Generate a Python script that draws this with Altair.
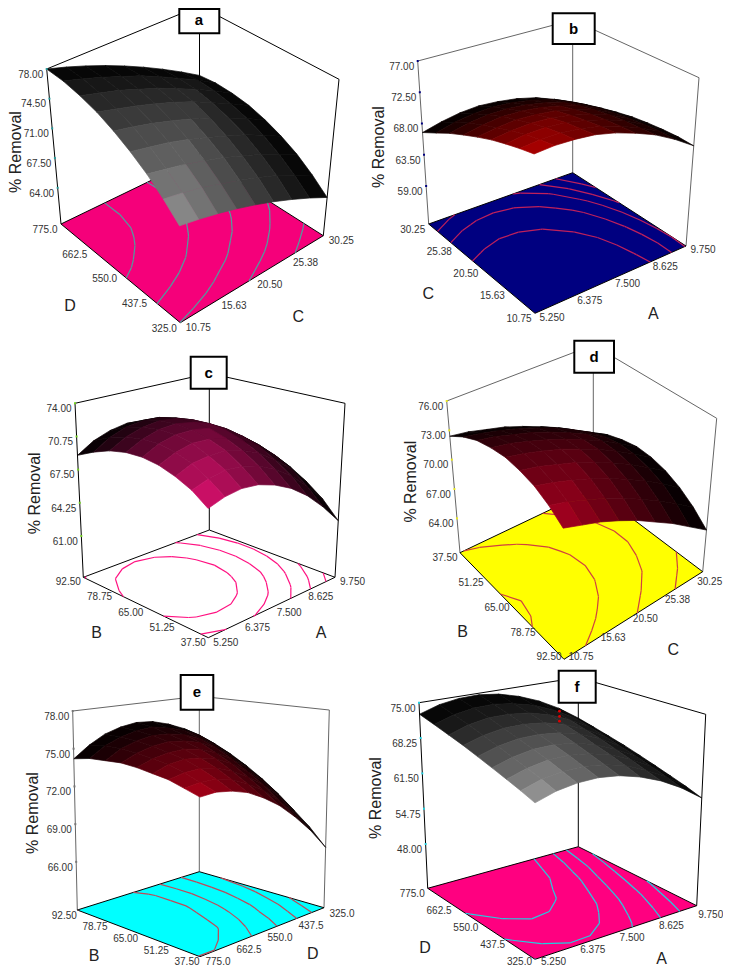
import altair as alt, pandas as pd, numpy as np
alt.data_transformers.disable_max_rows()
D_T=["775.0","662.5","550.0","437.5","325.0"]; C_T=["10.75","15.63","20.50","25.38","30.25"]
A_T=["5.250","6.375","7.500","8.625","9.750"]; B_T=["37.50","51.25","65.00","78.75","92.50"]
# % Removal: rows run along the left floor edge, columns along the right floor edge
SURF_A=[[71.0,70.5,69.9,69.2,68.4,67.5,66.5,65.4,64.2],[72.7,72.2,71.6,70.8,70.0,69.1,68.1,66.9,65.7],[74.2,73.6,73.0,72.2,71.4,70.4,69.4,68.2,67.0],
[75.4,74.8,74.2,73.4,72.5,71.5,70.5,69.3,68.0],[76.4,75.8,75.1,74.3,73.4,72.4,71.3,70.1,68.8],[77.2,76.5,75.8,75.0,74.1,73.1,71.9,70.7,69.4],
[77.7,77.0,76.3,75.4,74.5,73.4,72.3,71.1,69.7],[78.0,77.3,76.5,75.6,74.7,73.6,72.4,71.2,69.8],[78.0,77.3,76.5,75.6,74.6,73.5,72.3,71.0,69.6]]
SURF_B=[[74.9,75.0,74.8,74.4,73.6,72.5,71.2,69.5,67.5],[74.3,74.5,74.4,74.0,73.3,72.3,71.0,69.5,67.6],[73.6,73.9,73.9,73.6,72.9,72.0,70.8,69.3,67.5],
[72.8,73.1,73.2,73.0,72.4,71.6,70.5,69.0,67.3],[71.8,72.2,72.4,72.2,71.8,71.0,70.0,68.6,67.0],[70.7,71.2,71.5,71.4,71.0,70.3,69.4,68.1,66.5],
[69.5,70.1,70.4,70.4,70.1,69.5,68.6,67.4,65.9],[68.1,68.8,69.2,69.3,69.1,68.6,67.8,66.6,65.2],[66.7,67.4,67.9,68.1,67.9,67.5,66.8,65.7,64.4]]
SURF_C=[[68.5,69.0,69.2,69.0,68.4,67.5,66.2,64.5,62.5],[69.6,70.1,70.4,70.2,69.7,68.8,67.6,66.0,64.1],[70.3,71.0,71.2,71.2,70.7,69.9,68.7,67.2,65.3],
[70.8,71.5,71.9,71.8,71.4,70.7,69.6,68.1,66.3],[71.0,71.8,72.2,72.2,71.9,71.2,70.1,68.7,67.0],[70.9,71.7,72.2,72.3,72.0,71.4,70.4,69.1,67.4],
[70.5,71.4,71.9,72.1,71.9,71.3,70.4,69.1,67.5],[69.8,70.8,71.4,71.6,71.5,71.0,70.1,68.9,67.3],[68.9,69.9,70.5,70.8,70.7,70.3,69.5,68.3,66.8]]
SURF_D=[[73.2,72.5,71.8,70.9,69.9,68.7,67.5,66.1,64.7],[74.2,73.6,72.8,72.0,71.0,69.9,68.7,67.4,66.0],[74.9,74.3,73.6,72.8,71.9,70.8,69.7,68.4,67.0],
[75.2,74.7,74.0,73.3,72.4,71.4,70.3,69.0,67.7],[75.3,74.8,74.2,73.5,72.6,71.7,70.6,69.4,68.1],[75.0,74.6,74.0,73.3,72.5,71.6,70.6,69.4,68.2],
[74.5,74.1,73.5,72.9,72.1,71.2,70.2,69.1,67.9],[73.6,73.2,72.7,72.1,71.4,70.6,69.6,68.5,67.4],[72.4,72.1,71.6,71.1,70.4,69.6,68.7,67.6,66.5]]
SURF_E=[[74.2,74.2,73.9,73.4,72.6,71.6,70.3,68.8,67.0],[74.5,74.6,74.5,74.1,73.4,72.5,71.3,69.9,68.3],[74.8,75.0,75.0,74.7,74.1,73.3,72.3,71.0,69.4],
[74.9,75.3,75.4,75.2,74.8,74.1,73.1,72.0,70.5],[75.0,75.4,75.6,75.6,75.3,74.7,73.9,72.8,71.5],[75.0,75.5,75.8,75.9,75.7,75.3,74.6,73.6,72.4],
[74.8,75.5,75.9,76.1,76.0,75.7,75.1,74.3,73.2],[74.6,75.4,75.9,76.2,76.3,76.0,75.6,74.9,73.9],[74.2,75.1,75.8,76.2,76.4,76.3,75.9,75.3,74.5]]
SURF_F=[[66.6,67.7,68.2,68.2,67.6,66.4,64.7,62.4,59.5],[67.5,68.6,69.1,69.1,68.5,67.4,65.6,63.4,60.5],[68.3,69.4,70.0,70.0,69.4,68.3,66.5,64.3,61.4],
[69.1,70.2,70.8,70.8,70.3,69.1,67.4,65.2,62.3],[69.9,71.0,71.6,71.6,71.1,70.0,68.3,66.0,63.2],[70.7,71.8,72.4,72.4,71.9,70.8,69.1,66.9,64.1],
[71.4,72.6,73.2,73.2,72.7,71.6,69.9,67.7,64.9],[72.1,73.3,73.9,74.0,73.4,72.4,70.7,68.5,65.7],[72.8,74.0,74.6,74.7,74.2,73.1,71.5,69.3,66.5]]
# response grids behind the floor contours where they read differently from the drawn surface
CONT_C=[[68.5,69.0,69.2,69.0,68.4,67.5,66.2,64.5,62.5],[69.6,70.1,70.3,70.2,69.7,68.8,67.5,65.9,64.0],[70.3,70.9,71.2,71.1,70.6,69.8,68.6,67.0,65.1],
[70.8,71.5,71.8,71.7,71.3,70.5,69.4,67.9,66.0],[71.0,71.7,72.1,72.1,71.7,70.9,69.8,68.4,66.6],[70.9,71.7,72.1,72.1,71.8,71.1,70.0,68.6,66.9],
[70.5,71.3,71.8,71.9,71.6,70.9,69.9,68.6,66.9],[69.8,70.7,71.2,71.3,71.1,70.5,69.6,68.3,66.6],[68.9,69.8,70.3,70.5,70.3,69.8,68.9,67.6,66.0]]
CONT_E=[[74.2,74.2,73.9,73.4,72.6,71.6,70.3,68.8,67.0],[74.5,74.6,74.3,73.9,73.1,72.2,70.9,69.4,67.7],[74.8,74.9,74.7,74.3,73.6,72.6,71.4,70.0,68.3],
[74.9,75.1,74.9,74.5,73.9,73.0,71.9,70.5,68.8],[75.0,75.2,75.1,74.7,74.1,73.3,72.2,70.9,69.3],[75.0,75.2,75.1,74.8,74.3,73.5,72.4,71.2,69.6],
[74.8,75.1,75.1,74.8,74.3,73.6,72.6,71.3,69.8],[74.6,74.9,74.9,74.7,74.3,73.6,72.6,71.4,70.0],[74.2,74.6,74.7,74.5,74.1,73.5,72.6,71.4,70.0]]
CONT_F=[[66.6,67.7,68.2,68.2,67.6,66.4,64.7,62.4,59.5],[67.5,68.5,69.1,69.0,68.4,67.2,65.5,63.2,60.3],[68.3,69.4,69.9,69.8,69.2,68.0,66.2,63.9,61.0],
[69.1,70.2,70.7,70.6,69.9,68.7,66.9,64.6,61.7],[69.9,70.9,71.4,71.3,70.7,69.4,67.6,65.3,62.3],[70.7,71.7,72.1,72.0,71.3,70.1,68.3,65.9,63.0],
[71.4,72.4,72.8,72.7,72.0,70.8,68.9,66.6,63.6],[72.1,73.1,73.5,73.4,72.7,71.4,69.6,67.2,64.2],[72.8,73.8,74.2,74.0,73.3,72.0,70.2,67.7,64.8]]
POINTS_F=[75.2,74.2,73.3]
P={
'a':dict(L=(61,224),F=(180.3,322.7),R=(323.3,235.7),B=(199.5,157),TL=(46.7,69),TR=(339,79.3),TB=(199.5,6),TF=(179,165.7),
 zt=78,zstep=3.5,zp=.1916,zvals=[78,74.5,71,67.5,64],grid=SURF_A,cgrid=SURF_A,levels=[66.03,68.53,71.03,73.53,76.03],
 floor='#F5007A',cont='#4f9e9e',wall='#000',tick='#2a9a9a',base='#909090',left=D_T,right=C_T,
 box=(179.3,9,219.3,33.3),lab='a',lc=(199,20),yl=(16,152),al=('D',70,306),ar=('C',298.3,316.7),ol=(-16,6,6),orr=(18,5.5,5.5,18)),
'b':dict(L=(428.7,224),F=(535,313.3),R=(686,246),B=(572.7,172.7),TL=(417.7,61),TR=(699,77.7),TB=(572.7,20),TF=(534,138.3),
 zt=77,zstep=4.5,zp=.1917,zvals=[77,72.5,68,63.5,59],grid=SURF_B,cgrid=SURF_B,levels=[65.63,66.63,67.63,69.03,71.03],
 floor='#000080',cont='#c0205a',wall='#666',tick='#000080',base='#b00000',left=C_T[::-1],right=A_T,
 box=(552.7,13.3,594.7,44),lab='b',lc=(573.5,29),yl=(379,147),al=('C',428.3,294.3),ar=('A',653.3,314),ol=(-16,5.5,5.5),orr=(17,4.4,4.4,17)),
'c':dict(L=(83.3,577.3),F=(208.3,637.7),R=(335,577.3),B=(209.3,530),TL=(75,403.3),TR=(345,403.3),TB=(209.3,373.3),TF=(208,447),
 zt=74,zstep=3.25,zp=.1906,zvals=[74,70.75,67.5,64.25,61],grid=SURF_C,cgrid=CONT_C,levels=[63.63,65.43,67.23,69.03,70.73],
 floor='#ffffff',cont='#ff1080',wall='#000',tick='#70d020',base='#d8106c',left=B_T[::-1],right=A_T,
 box=(190.7,356.7,226.7,388.7),lab='c',lc=(208.7,372.5),yl=(35,493.3),al=('B',96.7,633.3),ar=('A',321,633.3),ol=(-15,5,5),orr=(17.5,5,5,17.5)),
'd':dict(L=(460,552.7),F=(564,659.3),R=(702.7,571.7),B=(593.3,489.2),TL=(446.7,401),TR=(716.7,418.3),TB=(593.3,345),TF=(563,499.3),
 zt=76,zstep=3,zp=.1934,zvals=[76,73,70,67,64],grid=SURF_D,cgrid=SURF_D,levels=[66.93,69.63,72.33,75.03],
 floor='#ffff00',cont='#d04040',wall='#666',tick='#e8e820',base='#a80020',left=B_T,right=C_T,
 box=(574.3,340.7,614,372.7),lab='d',lc=(594,356.5),yl=(410.7,481.7),al=('B',462.7,631.7),ar=('C',673.3,650),ol=(-15,5.6,-2),orr=(17,10,-2.6,7)),
'e':dict(L=(77.3,910),F=(200,956.7),R=(324,907.7),B=(199.3,871.7),TL=(72.7,711),TR=(329.3,710),TB=(199.3,696.2),TF=(200,746.7),
 zt=78,zstep=3,zp=.1895,zvals=[78,75,72,69,66],grid=SURF_E,cgrid=CONT_E,levels=[68.43,69.93,71.63,73.13,74.23],
 floor='#00ffff',cont='#c04858',wall='#666',tick='#777',base='#a80018',left=B_T[::-1],right=D_T,
 box=(180.7,675,213.3,709.7),lab='e',lc=(197,691.5),yl=(33,813),al=('B',94,956),ar=('D',312.7,954.3),ol=(-13,5.5,5.5),orr=(18,6,5,18)),
'f':dict(L=(427.7,888.3),F=(535,959.3),R=(696.7,905.7),B=(578.3,846.7),TL=(419,702.7),TR=(705.7,714.3),TB=(578.3,677.5),TF=(535,754.3),
 zt=75,zstep=6.75,zp=.1904,zvals=[75,68.25,61.5,54.75,48],grid=SURF_F,cgrid=CONT_F,levels=[61.93,64.23,66.63,68.53,70.83],
 floor='#ff0080',cont='#20d0e0',wall='#000',tick='#20d0e0',base='#999999',left=D_T,right=A_T,
 box=(558.7,670.7,595.7,702.7),lab='f',lc=(577,687),yl=(376,798),al=('D',425,948.3),ar=('A',661.7,959),ol=(-15.5,6,2.5),orr=(18.5,9,2.5,14)),
}
N=9
def hexmix(col,s):
    r=[int(col[i:i+2],16) for i in (1,3,5)]
    return '#%02x%02x%02x'%tuple(int(round(x*s)) for x in r)
lines=[];polys=[];cells=[];conts=[];ticks=[];texts=[];boxes=[];rots=[];bold=[];big=[];reds=[]
for key,p in P.items():
    Z=np.array(p['grid']);CZ=np.array(p['cgrid'])
    zf=p['zt']-p['zstep']/p['zp']
    A=lambda n:np.array(p[n],float)
    def fl(u,w): return A('F')*(1-u)*(1-w)+A('R')*u*(1-w)+A('L')*(1-u)*w+A('B')*u*w
    def tp(u,w): return A('TF')*(1-u)*(1-w)+A('TR')*u*(1-w)+A('TL')*(1-u)*w+A('TB')*u*w
    def pr(u,w,z):
        t=(z-zf)/(p['zt']-zf); return fl(u,w)*(1-t)+tp(u,w)*t
    for a,b in [('L','TL'),('R','TR'),('B','TB'),('TL','TB'),('TR','TB')]:
        s=key+a+b
        lines+= [dict(x=p[a][0],y=p[a][1],g=s,k=0,c=p['wall']),dict(x=p[b][0],y=p[b][1],g=s,k=1,c=p['wall'])]
    for k,n in enumerate(['L','F','R','B']):
        polys.append(dict(x=p[n][0],y=p[n][1],g=key,k=k,c=p['floor']))
    g=np.linspace(0,1,N)
    for lv in p['levels']:
        for i in range(N-1):
            for j in range(N-1):
                pts=[]
                cs=[(i,j),(i+1,j),(i+1,j+1),(i,j+1)]
                for m in range(4):
                    a=cs[m];b=cs[(m+1)%4]
                    za=CZ[a[0],a[1]];zb=CZ[b[0],b[1]]
                    if (za-lv)*(zb-lv)<0:
                        f=(lv-za)/(zb-za)
                        w=g[a[0]]+(g[b[0]]-g[a[0]])*f;u=g[a[1]]+(g[b[1]]-g[a[1]])*f
                        pts.append(fl(u,w))
                for q in range(0,len(pts)-1,2):
                    s=f'{key}{lv}{i}{j}{q}'
                    conts+=[dict(x=pts[q][0],y=pts[q][1],g=s,k=0,c=p['cont']),dict(x=pts[q+1][0],y=pts[q+1][1],g=s,k=1,c=p['cont'])]
    order=sorted([(i,j) for i in range(N-1) for j in range(N-1)],key=lambda t:-(t[0]+t[1]))
    for i,j in order:
        u=(g[j]+g[j+1])/2;w=(g[i]+g[i+1])/2
        s=max(0,1-((u+w)/2+.5*abs(u-w))/1.0)**1.1
        col=hexmix(p['base'],s)
        for k,(a,b) in enumerate([(i,j),(i,j+1),(i+1,j+1),(i+1,j)]):
            xy=pr(g[b],g[a],Z[a,b])
            cells.append(dict(x=xy[0],y=xy[1],g=f'{key}{i}{j}',k=k,c=col))
    for z in p['zvals']:
        t=(z-zf)/(p['zt']-zf); xy=A('L')*(1-t)+A('TL')*t
        ticks.append(dict(x=xy[0],y=xy[1],c=p['tick']))
        texts.append(dict(x=xy[0]-16,y=xy[1]+5.8,t='%.2f'%z))
    for i,lab in enumerate(p['left']):
        f=i/4; xy=A('L')*(1-f)+A('F')*f; o=p['ol']
        texts.append(dict(x=xy[0]+o[0],y=xy[1]+o[1]*(1-f)+o[2]*f,t=lab))
    for i,lab in enumerate(p['right']):
        f=i/4; xy=A('F')*(1-f)+A('R')*f; o=p['orr']
        texts.append(dict(x=xy[0]+o[0]*(1-f)+o[3]*f,y=xy[1]+o[2]*(1-f)+o[1]*f,t=lab))
    b=p['box'];boxes.append(dict(x=b[0],y=b[1],x2=b[2],y2=b[3]))
    bold.append(dict(x=p['lc'][0],y=p['lc'][1],t=p['lab']))
    rots.append(dict(x=p['yl'][0],y=p['yl'][1],t='% Removal'))
    big+=[dict(x=p['al'][1],y=p['al'][2],t=p['al'][0]),dict(x=p['ar'][1],y=p['ar'][2],t=p['ar'][0])]
    if key=='f':
        for z in POINTS_F:
            xy=pr(.5,.5,z); reds.append(dict(x=xy[0],y=xy[1]))
X=alt.X('x:Q',scale=alt.Scale(domain=[8,723],nice=False,zero=False),axis=None);Y=alt.Y('y:Q',scale=alt.Scale(domain=[967,8],nice=False,zero=False),axis=None)
FONT='Liberation Sans'
wall=alt.Chart(pd.DataFrame(lines)).mark_line(strokeWidth=1).encode(x=X,y=Y,detail='g:N',order='k:Q',stroke=alt.Stroke('c:N',scale=None))
floor=alt.Chart(pd.DataFrame(polys)).mark_line(interpolate='linear-closed',stroke='#000',strokeWidth=1).encode(x=X,y=Y,detail='g:N',order='k:Q',fill=alt.Fill('c:N',scale=None))
cont=alt.Chart(pd.DataFrame(conts)).mark_line(strokeWidth=1.2).encode(x=X,y=Y,detail='g:N',order='k:Q',stroke=alt.Stroke('c:N',scale=None))
surf=alt.Chart(pd.DataFrame(cells)).mark_line(interpolate='linear-closed',strokeWidth=.7).encode(x=X,y=Y,detail='g:N',order='k:Q',fill=alt.Fill('c:N',scale=None),stroke=alt.Stroke('c:N',scale=None))
red=alt.Chart(pd.DataFrame(reds)).mark_point(filled=True,size=8,color='#e00000',opacity=1).encode(x=X,y=Y)
box=alt.Chart(pd.DataFrame(boxes)).mark_rect(fill='#fff',stroke='#000',strokeWidth=2).encode(x=X,y=Y,x2='x2:Q',y2='y2:Q')
tk=alt.Chart(pd.DataFrame(ticks)).mark_point(filled=True,size=4,shape='square',opacity=1).encode(x=X,y=Y,color=alt.Color('c:N',scale=None))
tx=alt.Chart(pd.DataFrame(texts)).mark_text(font=FONT,fontSize=10,color='#333',baseline='middle').encode(x=X,y=Y,text='t:N')
bo=alt.Chart(pd.DataFrame(bold)).mark_text(font=FONT,fontSize=15,fontWeight='bold',color='#000',baseline='middle').encode(x=X,y=Y,text='t:N')
ro=alt.Chart(pd.DataFrame(rots)).mark_text(font=FONT,fontSize=16,color='#222',angle=270,baseline='middle').encode(x=X,y=Y,text='t:N')
bg=alt.Chart(pd.DataFrame(big)).mark_text(font=FONT,fontSize=16,color='#222',baseline='middle').encode(x=X,y=Y,text='t:N')
chart=alt.layer(wall,floor,cont,surf,red,box,tk,tx,bo,ro,bg).properties(width=715,height=959,padding=0,autosize=alt.AutoSizeParams(type='none')).configure_view(stroke=None)
chart.save("out.html", embed_options={"renderer": "svg", "actions": False})
